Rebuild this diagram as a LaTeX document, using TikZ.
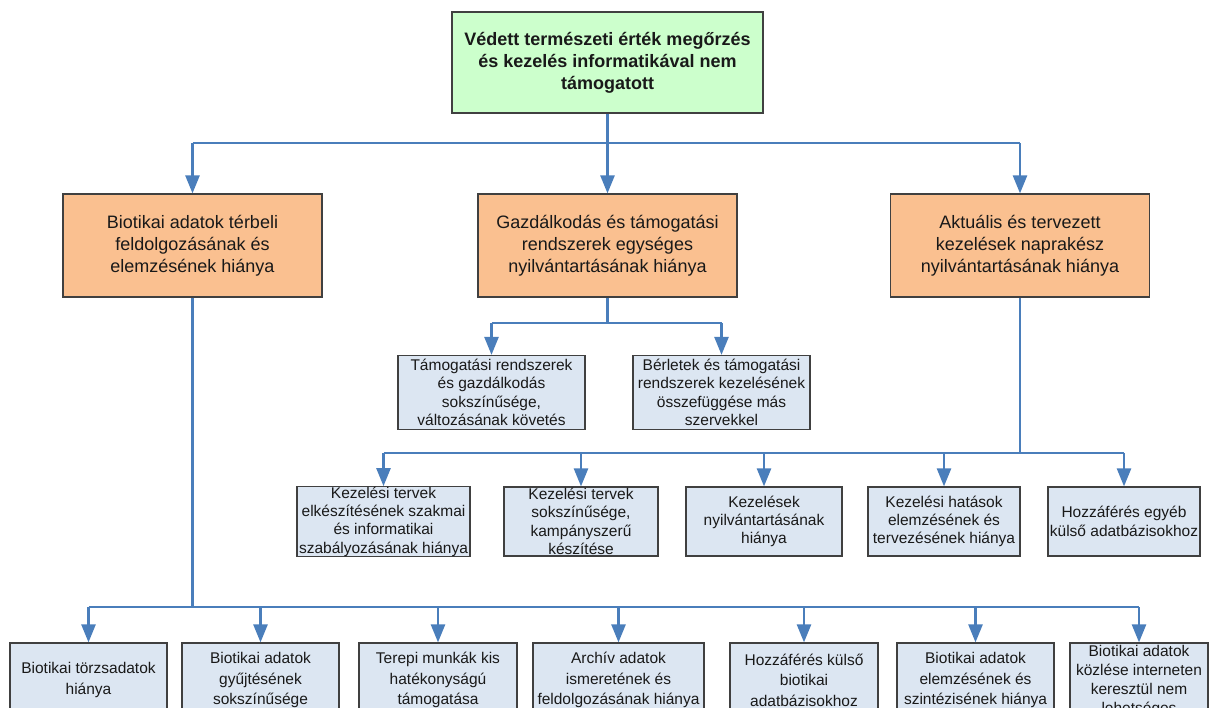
\documentclass[tikz,border=0pt]{standalone}
\usepackage{fontspec}
\setmainfont{Liberation Sans}
\usetikzlibrary{arrows.meta}
\definecolor{linkblue}{HTML}{4A7EBB}
\definecolor{rootfill}{HTML}{CCFFCC}
\definecolor{areafill}{HTML}{FAC090}
\definecolor{leaffill}{HTML}{DCE6F2}
\definecolor{edgegray}{HTML}{404040}
\begin{document}
\begin{tikzpicture}[x=1pt,y=-1pt,
  box/.style={draw=edgegray, line width=1.2pt, align=center, inner sep=0pt, text=black!90},
  rootbox/.style={box, fill=rootfill, font=\fontsize{18}{22}\selectfont\bfseries},
  areabox/.style={box, fill=areafill, font=\fontsize{18}{22}\selectfont,
                  minimum width=259pt, minimum height=103pt},
  leafbox/.style={box, fill=leaffill, font=\fontsize{15.5}{18.3}\selectfont},
  lowbox/.style={leafbox, font=\fontsize{15.5}{20.5}\selectfont},
  link/.style={draw=linkblue, line width=2.5pt},
  arr/.style={link, -{Triangle[length=18pt,width=14pt]}}]
\useasboundingbox (0,0) rectangle (1209,707);
\clip (0,0) rectangle (1209,707);

% root
\node[rootbox, minimum width=311pt, minimum height=101pt] (root) at (607.5,62.5)
  {Védett természeti érték megőrzés\\és kezelés informatikával nem\\támogatott};

% second level
\node[areabox] (a) at (192.5,245.5) {Biotikai adatok térbeli\\feldolgozásának és\\elemzésének hiánya};
\node[areabox] (b) at (607.5,245.5) {Gazdálkodás és támogatási\\rendszerek egységes\\nyilvántartásának hiánya};
\node[areabox] (c) at (1020,245.5) {Aktuális és tervezett\\kezelések naprakész\\nyilvántartásának hiánya};

% under the middle box
\node[leafbox, minimum width=187pt, minimum height=74pt] (s1) at (491.5,392.5)
  {Támogatási rendszerek\\és gazdálkodás\\sokszínűsége,\\változásának követés};
\node[leafbox, minimum width=177pt, minimum height=74pt] (s2) at (721.5,392.5)
  {Bérletek és támogatási\\rendszerek kezelésének\\összefüggése más\\szervekkel};

% under the right box
\node[leafbox, minimum width=173pt, minimum height=69pt] (k1) at (383.5,521.5)
  {Kezelési tervek\\elkészítésének szakmai\\és informatikai\\szabályozásának hiánya};
\node[leafbox, minimum width=154pt, minimum height=69pt] (k2) at (581,521.5)
  {Kezelési tervek\\sokszínűsége,\\kampányszerű\\készítése};
\node[leafbox, minimum width=156pt, minimum height=69pt] (k3) at (764,521.5)
  {Kezelések\\nyilvántartásának\\hiánya};
\node[leafbox, minimum width=152pt, minimum height=69pt] (k4) at (944,521.5)
  {Kezelési hatások\\elemzésének és\\tervezésének hiánya};
\node[leafbox, minimum width=152pt, minimum height=69pt] (k5) at (1124,521.5)
  {Hozzáférés egyéb\\külső adatbázisokhoz};

% under the left box
\node[lowbox, minimum width=157pt, minimum height=74pt] (p1) at (88.5,680)
  {Biotikai törzsadatok\\hiánya};
\node[lowbox, minimum width=157pt, minimum height=74pt] (p2) at (260.5,680)
  {Biotikai adatok\\gyűjtésének\\sokszínűsége};
\node[lowbox, minimum width=158pt, minimum height=74pt] (p3) at (438,680)
  {Terepi munkák kis\\hatékonyságú\\támogatása};
\node[lowbox, minimum width=171pt, minimum height=74pt] (p4) at (618.5,680)
  {Archív adatok\\ismeretének és\\feldolgozásának hiánya};
\node[lowbox, minimum width=148pt, minimum height=74pt] (p5) at (804,680)
  {Hozzáférés külső\\biotikai\\adatbázisokhoz};
\node[lowbox, minimum width=157pt, minimum height=74pt] (p6) at (975.5,680)
  {Biotikai adatok\\elemzésének és\\szintézisének hiánya};
\node[leafbox, font=\fontsize{15.5}{19}\selectfont, minimum width=138pt, minimum height=76pt] (p7) at (1139,681)
  {Biotikai adatok\\közlése interneten\\keresztül nem\\lehetséges};

% junctions
\coordinate (j0) at (607.5,143);
\coordinate (j1) at (607.5,323);
\coordinate (j2) at (1020,453);
\coordinate (j3) at (192.5,607);

% root to second level
\draw[link] (root.south) -- (j0);
\draw[link] (a.north |- j0) -- (c.north |- j0);
\foreach \n in {a,b,c} \draw[arr] (\n.north |- j0) -- (\n.north);

% middle branch
\draw[link] (b.south) -- (j1);
\draw[link] (s1.north |- j1) -- (s2.north |- j1);
\foreach \n in {s1,s2} \draw[arr] (\n.north |- j1) -- (\n.north);

% right branch
\draw[link] (c.south) -- (j2);
\draw[link] (k1.north |- j2) -- (k5.north |- j2);
\foreach \n in {k1,k2,k3,k4,k5} \draw[arr] (\n.north |- j2) -- (\n.north);

% left branch
\draw[link] (a.south) -- (j3);
\draw[link] (p1.north |- j3) -- (p7.north |- j3);
\foreach \n in {p1,p2,p3,p4,p5,p6,p7} \draw[arr] (\n.north |- j3) -- (\n.north);
\end{tikzpicture}
\end{document}
